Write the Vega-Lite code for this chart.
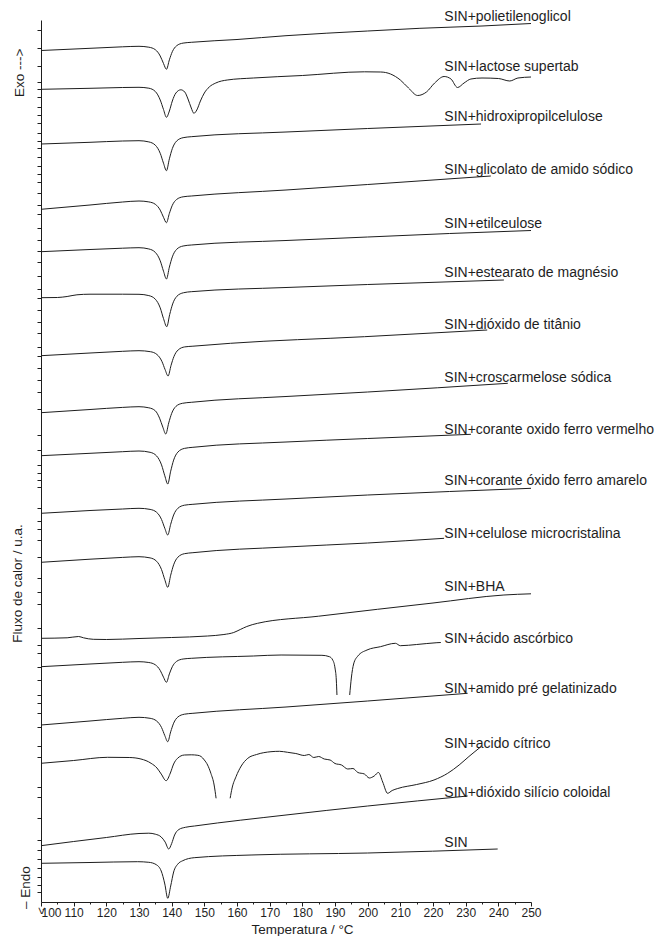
{
  "$schema": "https://vega.github.io/schema/vega-lite/v6.json",
  "width": 490,
  "height": 882,
  "autosize": {"type": "none"},
  "padding": {"left": 41, "top": 20, "right": 126, "bottom": 34},
  "background": "white",
  "config": {
    "view": {"stroke": null},
    "font": "Liberation Sans",
    "axis": {
      "domainColor": "#1e1e1e",
      "tickColor": "#1e1e1e",
      "labelColor": "#1e1e1e",
      "titleColor": "#1e1e1e",
      "labelFont": "Liberation Sans",
      "titleFont": "Liberation Sans",
      "labelFontSize": 12,
      "titleFontSize": 13.5,
      "titleFontWeight": "normal",
      "domainWidth": 1,
      "tickWidth": 1,
      "grid": false
    }
  },
  "datasets": {
    "curvas": [
      {"a":"peg","t":100,"f":851.5},{"a":"peg","t":115,"f":853.7},{"a":"peg","t":125,"f":855.2},{"a":"peg","t":130,"f":855.7},{"a":"peg","t":133,"f":854.8},{"a":"peg","t":135,"f":852.3},{"a":"peg","t":136.5,"f":846},{"a":"peg","t":137.5,"f":838.5},{"a":"peg","t":138.4,"f":832.7},{"a":"peg","t":139.3,"f":842.2},{"a":"peg","t":140.2,"f":850.3},{"a":"peg","t":141.5,"f":856.2},{"a":"peg","t":143.5,"f":858.9},{"a":"peg","t":146,"f":859.7},{"a":"peg","t":160,"f":862.5},{"a":"peg","t":175,"f":866.3},{"a":"peg","t":200,"f":871},{"a":"peg","t":216,"f":873.7},{"a":"peg","t":235,"f":876},{"a":"peg","t":250,"f":878.5},

      {"a":"lac","t":100,"f":812.7},{"a":"lac","t":115,"f":813.7},{"a":"lac","t":125,"f":814.5},{"a":"lac","t":130,"f":814.7},{"a":"lac","t":133,"f":813.8},{"a":"lac","t":135,"f":810.5},{"a":"lac","t":136.5,"f":802},{"a":"lac","t":137.5,"f":792.5},{"a":"lac","t":138.4,"f":784.7},{"a":"lac","t":139.3,"f":791},{"a":"lac","t":140.2,"f":801},{"a":"lac","t":141.3,"f":809},{"a":"lac","t":142.8,"f":812.2},{"a":"lac","t":144,"f":810},{"a":"lac","t":145,"f":803},{"a":"lac","t":146,"f":794},{"a":"lac","t":146.8,"f":788.7},{"a":"lac","t":147.7,"f":792},{"a":"lac","t":148.8,"f":801},{"a":"lac","t":150,"f":809},{"a":"lac","t":151.5,"f":815},{"a":"lac","t":153.5,"f":819},{"a":"lac","t":157,"f":822},{"a":"lac","t":165,"f":824},{"a":"lac","t":180,"f":826.5},{"a":"lac","t":199,"f":830.2},{"a":"lac","t":204,"f":830},{"a":"lac","t":207,"f":828},{"a":"lac","t":210,"f":822},{"a":"lac","t":212.5,"f":814},{"a":"lac","t":215.3,"f":806.5},{"a":"lac","t":218,"f":810},{"a":"lac","t":220.5,"f":819},{"a":"lac","t":223.4,"f":825.5},{"a":"lac","t":225.5,"f":823},{"a":"lac","t":227.5,"f":814.5},{"a":"lac","t":229.5,"f":819},{"a":"lac","t":231.6,"f":823},{"a":"lac","t":235,"f":824},{"a":"lac","t":240,"f":823.5},{"a":"lac","t":243.5,"f":821},{"a":"lac","t":246,"f":824},{"a":"lac","t":250,"f":825},

      {"a":"hpc","t":100,"f":758},{"a":"hpc","t":115,"f":759.7},{"a":"hpc","t":125,"f":761},{"a":"hpc","t":130,"f":761.3},{"a":"hpc","t":133,"f":760.1},{"a":"hpc","t":135,"f":756.8},{"a":"hpc","t":136.5,"f":748.7},{"a":"hpc","t":137.5,"f":738.8},{"a":"hpc","t":138.4,"f":731.3},{"a":"hpc","t":139.3,"f":743.2},{"a":"hpc","t":140.2,"f":753.4},{"a":"hpc","t":141.5,"f":760.9},{"a":"hpc","t":143.5,"f":764.3},{"a":"hpc","t":146,"f":765.3},{"a":"hpc","t":175,"f":770},{"a":"hpc","t":200,"f":773.5},{"a":"hpc","t":234.7,"f":778},

      {"a":"gli","t":100,"f":692.7},{"a":"gli","t":115,"f":697},{"a":"gli","t":125,"f":700},{"a":"gli","t":130,"f":701},{"a":"gli","t":133,"f":700.1},{"a":"gli","t":135,"f":697.7},{"a":"gli","t":136.5,"f":691.9},{"a":"gli","t":137.5,"f":684.7},{"a":"gli","t":138.4,"f":679.3},{"a":"gli","t":139.3,"f":688.6},{"a":"gli","t":140.2,"f":696.7},{"a":"gli","t":141.5,"f":702.5},{"a":"gli","t":143.5,"f":705.2},{"a":"gli","t":146,"f":706},{"a":"gli","t":175,"f":712},{"a":"gli","t":200,"f":717.5},{"a":"gli","t":220,"f":722},{"a":"gli","t":237.7,"f":726},

      {"a":"eti","t":100,"f":650.3},{"a":"eti","t":115,"f":652.5},{"a":"eti","t":125,"f":653.8},{"a":"eti","t":130,"f":654.3},{"a":"eti","t":133,"f":653.05},{"a":"eti","t":135,"f":649.6},{"a":"eti","t":136.5,"f":641.2},{"a":"eti","t":137.5,"f":630.8},{"a":"eti","t":138.4,"f":623},{"a":"eti","t":139.3,"f":634.9},{"a":"eti","t":140.2,"f":645.1},{"a":"eti","t":141.5,"f":652.6},{"a":"eti","t":143.5,"f":656},{"a":"eti","t":146,"f":657},{"a":"eti","t":175,"f":661.5},{"a":"eti","t":200,"f":665},{"a":"eti","t":225,"f":668.5},{"a":"eti","t":250,"f":671.5},

      {"a":"est","t":100,"f":604.3},{"a":"est","t":105,"f":604.5},{"a":"est","t":108,"f":605.5},{"a":"est","t":111,"f":607.2},{"a":"est","t":115,"f":607.8},{"a":"est","t":125,"f":607.8},{"a":"est","t":130,"f":607.7},{"a":"est","t":133,"f":606.4},{"a":"est","t":135,"f":602.8},{"a":"est","t":136.5,"f":594.1},{"a":"est","t":137.5,"f":583.4},{"a":"est","t":138.5,"f":575.3},{"a":"est","t":139.4,"f":587.55},{"a":"est","t":140.3,"f":598.05},{"a":"est","t":141.6,"f":605.75},{"a":"est","t":143.6,"f":609.25},{"a":"est","t":146,"f":610.3},{"a":"est","t":175,"f":614.5},{"a":"est","t":200,"f":617.5},{"a":"est","t":241.7,"f":622},

      {"a":"tio","t":100,"f":546.3},{"a":"tio","t":115,"f":549},{"a":"tio","t":125,"f":550.7},{"a":"tio","t":130,"f":551.3},{"a":"tio","t":133.5,"f":550.3},{"a":"tio","t":135.5,"f":547.5},{"a":"tio","t":137,"f":540.7},{"a":"tio","t":138,"f":532.3},{"a":"tio","t":138.9,"f":526},{"a":"tio","t":139.8,"f":536.5},{"a":"tio","t":140.7,"f":545.5},{"a":"tio","t":142,"f":552.1},{"a":"tio","t":144,"f":555.1},{"a":"tio","t":146.5,"f":555.8},{"a":"tio","t":158,"f":558.7},{"a":"tio","t":199,"f":565.3},{"a":"tio","t":236.6,"f":572},

      {"a":"cro","t":100,"f":489.3},{"a":"cro","t":115,"f":492.5},{"a":"cro","t":125,"f":494.6},{"a":"cro","t":130,"f":495.3},{"a":"cro","t":133,"f":494.2},{"a":"cro","t":135,"f":491.2},{"a":"cro","t":136.3,"f":483.8},{"a":"cro","t":137.3,"f":474.8},{"a":"cro","t":138.2,"f":468},{"a":"cro","t":139.1,"f":479.1},{"a":"cro","t":140,"f":488.6},{"a":"cro","t":141.3,"f":495.6},{"a":"cro","t":143.3,"f":498.7},{"a":"cro","t":146,"f":499.7},{"a":"cro","t":175,"f":505.5},{"a":"cro","t":200,"f":510},{"a":"cro","t":242.9,"f":518.7},

      {"a":"ver","t":100,"f":446.3},{"a":"ver","t":115,"f":448.7},{"a":"ver","t":125,"f":450.3},{"a":"ver","t":130,"f":451},{"a":"ver","t":133.4,"f":449.7},{"a":"ver","t":135.4,"f":446},{"a":"ver","t":136.9,"f":437.1},{"a":"ver","t":137.9,"f":426.2},{"a":"ver","t":138.8,"f":418},{"a":"ver","t":139.7,"f":430.8},{"a":"ver","t":140.6,"f":441.9},{"a":"ver","t":141.9,"f":449.9},{"a":"ver","t":143.9,"f":453.6},{"a":"ver","t":146.5,"f":454.7},{"a":"ver","t":175,"f":460},{"a":"ver","t":200,"f":463.5},{"a":"ver","t":231.6,"f":467.7},

      {"a":"ama","t":100,"f":388.7},{"a":"ama","t":115,"f":391.5},{"a":"ama","t":125,"f":393},{"a":"ama","t":130,"f":393.7},{"a":"ama","t":133.4,"f":392.6},{"a":"ama","t":135.4,"f":389.7},{"a":"ama","t":136.9,"f":382.5},{"a":"ama","t":137.9,"f":373.7},{"a":"ama","t":138.8,"f":367},{"a":"ama","t":139.7,"f":377.7},{"a":"ama","t":140.6,"f":387},{"a":"ama","t":141.9,"f":393.7},{"a":"ama","t":143.9,"f":396.8},{"a":"ama","t":146.5,"f":397.7},{"a":"ama","t":175,"f":403},{"a":"ama","t":200,"f":407},{"a":"ama","t":225,"f":410.5},{"a":"ama","t":250,"f":413.7},

      {"a":"cel","t":100,"f":339.7},{"a":"cel","t":115,"f":342.8},{"a":"cel","t":125,"f":344.6},{"a":"cel","t":130,"f":345.3},{"a":"cel","t":133.4,"f":344.1},{"a":"cel","t":135.4,"f":340.7},{"a":"cel","t":136.9,"f":332.4},{"a":"cel","t":137.9,"f":322.3},{"a":"cel","t":138.8,"f":314.7},{"a":"cel","t":139.7,"f":326.8},{"a":"cel","t":140.6,"f":337.2},{"a":"cel","t":141.9,"f":344.8},{"a":"cel","t":143.9,"f":348.3},{"a":"cel","t":146.5,"f":349.3},{"a":"cel","t":175,"f":355},{"a":"cel","t":200,"f":359},{"a":"cel","t":223.4,"f":363.7},

      {"a":"bha","t":100,"f":263.7},{"a":"bha","t":108,"f":264.2},{"a":"bha","t":111.5,"f":265.5},{"a":"bha","t":113,"f":264.2},{"a":"bha","t":116,"f":262.7},{"a":"bha","t":120,"f":262.5},{"a":"bha","t":130,"f":263.5},{"a":"bha","t":140,"f":264.5},{"a":"bha","t":151,"f":266},{"a":"bha","t":156,"f":267.5},{"a":"bha","t":159,"f":269.5},{"a":"bha","t":161,"f":272.5},{"a":"bha","t":163,"f":275.5},{"a":"bha","t":166.3,"f":278.7},{"a":"bha","t":185,"f":285.8},{"a":"bha","t":203,"f":292.7},{"a":"bha","t":220,"f":299},{"a":"bha","t":241.7,"f":307},{"a":"bha","t":250,"f":308.2},

      {"a":"asc","s":1,"t":100,"f":235.3},{"a":"asc","s":1,"t":115,"f":238},{"a":"asc","s":1,"t":125,"f":239.7},{"a":"asc","s":1,"t":130,"f":240.3},{"a":"asc","s":1,"t":133,"f":239.5},{"a":"asc","s":1,"t":135,"f":237.2},{"a":"asc","s":1,"t":136.5,"f":231.6},{"a":"asc","s":1,"t":137.5,"f":224.8},{"a":"asc","s":1,"t":138.4,"f":219.7},{"a":"asc","s":1,"t":139.3,"f":228.1},{"a":"asc","s":1,"t":140.2,"f":235.3},{"a":"asc","s":1,"t":141.5,"f":240.6},{"a":"asc","s":1,"t":143.5,"f":243},{"a":"asc","s":1,"t":146,"f":243.7},{"a":"asc","s":1,"t":165,"f":246},{"a":"asc","s":1,"t":173.5,"f":247},{"a":"asc","s":1,"t":186,"f":246.7},{"a":"asc","s":1,"t":188.3,"f":245.3},{"a":"asc","s":1,"t":189.3,"f":242},{"a":"asc","s":1,"t":190,"f":234},{"a":"asc","s":1,"t":190.4,"f":222},{"a":"asc","s":1,"t":190.6,"f":207},
      {"a":"asc","s":2,"t":194.5,"f":207},{"a":"asc","s":2,"t":195,"f":224},{"a":"asc","s":2,"t":195.7,"f":238},{"a":"asc","s":2,"t":197,"f":246},{"a":"asc","s":2,"t":199.8,"f":252},{"a":"asc","s":2,"t":203.9,"f":255.3},{"a":"asc","s":2,"t":208.5,"f":258.7},{"a":"asc","s":2,"t":210,"f":256.3},{"a":"asc","s":2,"t":215,"f":257.5},{"a":"asc","s":2,"t":221.2,"f":259.3},{"a":"asc","s":2,"t":222.4,"f":259.5},

      {"a":"ami","t":100,"f":177},{"a":"ami","t":115,"f":181},{"a":"ami","t":125,"f":183.7},{"a":"ami","t":130,"f":184.7},{"a":"ami","t":133.4,"f":183.7},{"a":"ami","t":135.4,"f":181},{"a":"ami","t":136.9,"f":174.5},{"a":"ami","t":137.9,"f":166.4},{"a":"ami","t":138.8,"f":160.3},{"a":"ami","t":139.7,"f":170.2},{"a":"ami","t":140.6,"f":178.8},{"a":"ami","t":141.9,"f":185},{"a":"ami","t":143.9,"f":187.8},{"a":"ami","t":146.5,"f":188.7},{"a":"ami","t":175,"f":195},{"a":"ami","t":200,"f":201},{"a":"ami","t":230.6,"f":208.7},

      {"a":"cit","s":1,"t":100,"f":138.7},{"a":"cit","s":1,"t":110,"f":141.5},{"a":"cit","s":1,"t":120.4,"f":144.7},{"a":"cit","s":1,"t":127,"f":144.5},{"a":"cit","s":1,"t":130.6,"f":143},{"a":"cit","s":1,"t":133.7,"f":138.7},{"a":"cit","s":1,"t":135.5,"f":134},{"a":"cit","s":1,"t":136.8,"f":128},{"a":"cit","s":1,"t":138.3,"f":121.3},{"a":"cit","s":1,"t":139.6,"f":129},{"a":"cit","s":1,"t":140.6,"f":138},{"a":"cit","s":1,"t":141.8,"f":143.7},{"a":"cit","s":1,"t":143.9,"f":147},{"a":"cit","s":1,"t":146,"f":147.2},{"a":"cit","s":1,"t":148,"f":146.7},{"a":"cit","s":1,"t":149,"f":145.5},{"a":"cit","s":1,"t":150,"f":142},{"a":"cit","s":1,"t":151,"f":137},{"a":"cit","s":1,"t":152,"f":128.7},{"a":"cit","s":1,"t":153,"f":117},{"a":"cit","s":1,"t":153.6,"f":103.7},
      {"a":"cit","s":2,"t":157.9,"f":103.7},{"a":"cit","s":2,"t":158.5,"f":114},{"a":"cit","s":2,"t":159.7,"f":125.3},{"a":"cit","s":2,"t":161.3,"f":136},{"a":"cit","s":2,"t":163.3,"f":143.7},{"a":"cit","s":2,"t":166,"f":147.5},{"a":"cit","s":2,"t":170.4,"f":150.3},{"a":"cit","s":2,"t":173,"f":150.7},{"a":"cit","s":2,"t":175.5,"f":149.7},{"a":"cit","s":2,"t":178,"f":148.5},{"a":"cit","s":2,"t":180.6,"f":146.5},{"a":"cit","s":2,"t":182,"f":147.5},{"a":"cit","s":2,"t":183.5,"f":144.5},{"a":"cit","s":2,"t":185,"f":145.5},{"a":"cit","s":2,"t":186.7,"f":143},{"a":"cit","s":2,"t":188.5,"f":142},{"a":"cit","s":2,"t":190,"f":138.5},{"a":"cit","s":2,"t":192,"f":137},{"a":"cit","s":2,"t":193.9,"f":133},{"a":"cit","s":2,"t":195.5,"f":133.5},{"a":"cit","s":2,"t":197,"f":129.5},{"a":"cit","s":2,"t":199,"f":128},{"a":"cit","s":2,"t":200.5,"f":124},{"a":"cit","s":2,"t":202,"f":126},{"a":"cit","s":2,"t":203.3,"f":129.5},{"a":"cit","s":2,"t":204.6,"f":120},{"a":"cit","s":2,"t":206.1,"f":108.7},{"a":"cit","s":2,"t":207.5,"f":111.5},{"a":"cit","s":2,"t":209.2,"f":113.5},{"a":"cit","s":2,"t":215,"f":117.5},{"a":"cit","s":2,"t":220.3,"f":122},{"a":"cit","s":2,"t":224.5,"f":128.7},{"a":"cit","s":2,"t":228,"f":137},{"a":"cit","s":2,"t":231,"f":145.5},{"a":"cit","s":2,"t":234.7,"f":155.3},

      {"a":"sil","t":100,"f":56.3},{"a":"sil","t":110,"f":60.5},{"a":"sil","t":120,"f":64.5},{"a":"sil","t":130,"f":68.5},{"a":"sil","t":133,"f":68.8},{"a":"sil","t":135,"f":67.8},{"a":"sil","t":136.8,"f":65},{"a":"sil","t":138,"f":60},{"a":"sil","t":139.1,"f":53},{"a":"sil","t":140,"f":58.5},{"a":"sil","t":140.9,"f":67},{"a":"sil","t":142.2,"f":72.5},{"a":"sil","t":144.2,"f":74.7},{"a":"sil","t":147,"f":76},{"a":"sil","t":175,"f":87},{"a":"sil","t":200,"f":96},{"a":"sil","t":230.6,"f":106},

      {"a":"sin","t":100,"f":38.7},{"a":"sin","t":115,"f":39.5},{"a":"sin","t":129.6,"f":40.3},{"a":"sin","t":133,"f":39.7},{"a":"sin","t":135.2,"f":37.5},{"a":"sin","t":136.8,"f":31},{"a":"sin","t":137.9,"f":18},{"a":"sin","t":138.8,"f":3.7},{"a":"sin","t":139.7,"f":16},{"a":"sin","t":140.6,"f":30},{"a":"sin","t":141.9,"f":38},{"a":"sin","t":143.4,"f":41.3},{"a":"sin","t":146.9,"f":44.3},{"a":"sin","t":164.3,"f":47},{"a":"sin","t":200,"f":49},{"a":"sin","t":239.8,"f":53}
    ],
    "rotulos": [
      {"texto":"SIN+polietilenoglicol","f":885},
      {"texto":"SIN+lactose supertab","f":835},
      {"texto":"SIN+hidroxipropilcelulose","f":785},
      {"texto":"SIN+glicolato de amido sódico","f":732},
      {"texto":"SIN+etilceulose","f":678},
      {"texto":"SIN+estearato de magnésio","f":629},
      {"texto":"SIN+dióxido de titânio","f":577},
      {"texto":"SIN+croscarmelose sódica","f":524},
      {"texto":"SIN+corante oxido ferro vermelho","f":472},
      {"texto":"SIN+corante óxido ferro amarelo","f":421},
      {"texto":"SIN+celulose microcristalina","f":368},
      {"texto":"SIN+BHA","f":315},
      {"texto":"SIN+ácido ascórbico","f":263},
      {"texto":"SIN+amido pré gelatinizado","f":213},
      {"texto":"SIN+acido cítrico","f":158},
      {"texto":"SIN+dióxido silício coloidal","f":109},
      {"texto":"SIN","f":59}
    ]
  },
  "layer": [
    {
      "data": {"name": "curvas"},
      "mark": {"type": "line", "interpolate": "monotone", "color": "#1e1e1e", "strokeWidth": 1},
      "encoding": {
        "x": {
          "field": "t", "type": "quantitative",
          "scale": {"domain": [100, 250], "nice": false, "zero": false},
          "axis": {
            "title": "Temperatura / °C",
            "values": [100,105,110,115,120,125,130,135,140,145,150,155,160,165,170,175,180,185,190,195,200,205,210,215,220,225,230,235,240,245,250],
            "labelExpr": "datum.value === 100 ? '\u00a0100' : (datum.value % 10 === 0 ? datum.label : '')",
            "tickSize": {"condition": {"test": "datum.value % 10 === 0", "value": 4}, "value": 2},
            "labelAlign": {"condition": {"test": "datum.value === 100", "value": "left"}, "value": "center"},
            "labelPadding": 1, "labelFlush": false, "labelOverlap": false,
            "titleX": 261, "titleY": 20, "titleBaseline": "top", "titleAlign": "center"
          }
        },
        "y": {
          "field": "f", "type": "quantitative",
          "scale": {"domain": [0, 882], "nice": false, "zero": false},
          "axis": {
            "title": "Fluxo de calor / u.a.",
            "labels": false,
            "values": [10,17,25,34,43,52,62,84,105,115,145,156,175,189,199,207,222,235,249,257,274,298,310,324,345,362,373,381,394,415,422,429,437,452,467,493,510,522,534,546,555,569,580,592,604,613,626,640,651,662,674,688,697,709,720,728,736,745,754,761,769,779,787,795,805,813,820,836,854,872],
            "tickSize": 4,
            "titleX": -24, "titleY": 563, "titleAngle": 270, "titleAlign": "center", "titleBaseline": "middle"
          }
        },
        "detail": [{"field": "a"}, {"field": "s"}]
      }
    },
    {
      "data": {"name": "rotulos"},
      "mark": {"type": "text", "align": "left", "baseline": "middle", "fontSize": 14, "font": "Liberation Sans", "color": "#1e1e1e"},
      "encoding": {
        "x": {
          "datum": 223.46, "type": "quantitative",
          "scale": {"domain": [100, 250], "nice": false, "zero": false},
          "axis": {
            "title": "Temperatura / °C",
            "values": [100,105,110,115,120,125,130,135,140,145,150,155,160,165,170,175,180,185,190,195,200,205,210,215,220,225,230,235,240,245,250],
            "labelExpr": "datum.value === 100 ? '\u00a0100' : (datum.value % 10 === 0 ? datum.label : '')",
            "tickSize": {"condition": {"test": "datum.value % 10 === 0", "value": 4}, "value": 2},
            "labelAlign": {"condition": {"test": "datum.value === 100", "value": "left"}, "value": "center"},
            "labelPadding": 1, "labelFlush": false, "labelOverlap": false,
            "titleX": 261, "titleY": 20, "titleBaseline": "top", "titleAlign": "center"
          }
        },
        "y": {
          "field": "f", "type": "quantitative",
          "scale": {"domain": [0, 882], "nice": false, "zero": false},
          "axis": {
            "title": "Fluxo de calor / u.a.",
            "labels": false,
            "values": [10,17,25,34,43,52,62,84,105,115,145,156,175,189,199,207,222,235,249,257,274,298,310,324,345,362,373,381,394,415,422,429,437,452,467,493,510,522,534,546,555,569,580,592,604,613,626,640,651,662,674,688,697,709,720,728,736,745,754,761,769,779,787,795,805,813,820,836,854,872],
            "tickSize": 4,
            "titleX": -24, "titleY": 563, "titleAngle": 270, "titleAlign": "center", "titleBaseline": "middle"
          }
        },
        "text": {"field": "texto"}
      }
    },
    {
      "data": {"values": [{"nota": "Exo --->", "t": 93.66, "f": 805}, {"nota": "– Endo", "t": 95.5, "f": -7}]},
      "mark": {"type": "text", "baseline": "middle", "align": "left", "angle": 270, "fontSize": 13.5, "font": "Liberation Sans", "color": "#1e1e1e"},
      "encoding": {
        "x": {
          "field": "t", "type": "quantitative",
          "scale": {"domain": [100, 250], "nice": false, "zero": false},
          "axis": {
            "title": "Temperatura / °C",
            "values": [100,105,110,115,120,125,130,135,140,145,150,155,160,165,170,175,180,185,190,195,200,205,210,215,220,225,230,235,240,245,250],
            "labelExpr": "datum.value === 100 ? '\u00a0100' : (datum.value % 10 === 0 ? datum.label : '')",
            "tickSize": {"condition": {"test": "datum.value % 10 === 0", "value": 4}, "value": 2},
            "labelAlign": {"condition": {"test": "datum.value === 100", "value": "left"}, "value": "center"},
            "labelPadding": 1, "labelFlush": false, "labelOverlap": false,
            "titleX": 261, "titleY": 20, "titleBaseline": "top", "titleAlign": "center"
          }
        },
        "y": {
          "field": "f", "type": "quantitative",
          "scale": {"domain": [0, 882], "nice": false, "zero": false},
          "axis": {
            "title": "Fluxo de calor / u.a.",
            "labels": false,
            "values": [10,17,25,34,43,52,62,84,105,115,145,156,175,189,199,207,222,235,249,257,274,298,310,324,345,362,373,381,394,415,422,429,437,452,467,493,510,522,534,546,555,569,580,592,604,613,626,640,651,662,674,688,697,709,720,728,736,745,754,761,769,779,787,795,805,813,820,836,854,872],
            "tickSize": 4,
            "titleX": -24, "titleY": 563, "titleAngle": 270, "titleAlign": "center", "titleBaseline": "middle"
          }
        },
        "text": {"field": "nota"}
      }
    },
    {
      "data": {"values": [{}]},
      "mark": {"type": "text", "baseline": "middle", "align": "center", "angle": 270, "fontSize": 13, "font": "Liberation Sans", "color": "#1e1e1e", "text": "<"},
      "encoding": {
        "x": {
          "datum": 100.35, "type": "quantitative",
          "scale": {"domain": [100, 250], "nice": false, "zero": false},
          "axis": {
            "title": "Temperatura / °C",
            "values": [100,105,110,115,120,125,130,135,140,145,150,155,160,165,170,175,180,185,190,195,200,205,210,215,220,225,230,235,240,245,250],
            "labelExpr": "datum.value === 100 ? '\u00a0100' : (datum.value % 10 === 0 ? datum.label : '')",
            "tickSize": {"condition": {"test": "datum.value % 10 === 0", "value": 4}, "value": 2},
            "labelAlign": {"condition": {"test": "datum.value === 100", "value": "left"}, "value": "center"},
            "labelPadding": 1, "labelFlush": false, "labelOverlap": false,
            "titleX": 261, "titleY": 20, "titleBaseline": "top", "titleAlign": "center"
          }
        },
        "y": {
          "datum": -9, "type": "quantitative",
          "scale": {"domain": [0, 882], "nice": false, "zero": false},
          "axis": {
            "title": "Fluxo de calor / u.a.",
            "labels": false,
            "values": [10,17,25,34,43,52,62,84,105,115,145,156,175,189,199,207,222,235,249,257,274,298,310,324,345,362,373,381,394,415,422,429,437,452,467,493,510,522,534,546,555,569,580,592,604,613,626,640,651,662,674,688,697,709,720,728,736,745,754,761,769,779,787,795,805,813,820,836,854,872],
            "tickSize": 4,
            "titleX": -24, "titleY": 563, "titleAngle": 270, "titleAlign": "center", "titleBaseline": "middle"
          }
        }
      }
    }
  ]
}
